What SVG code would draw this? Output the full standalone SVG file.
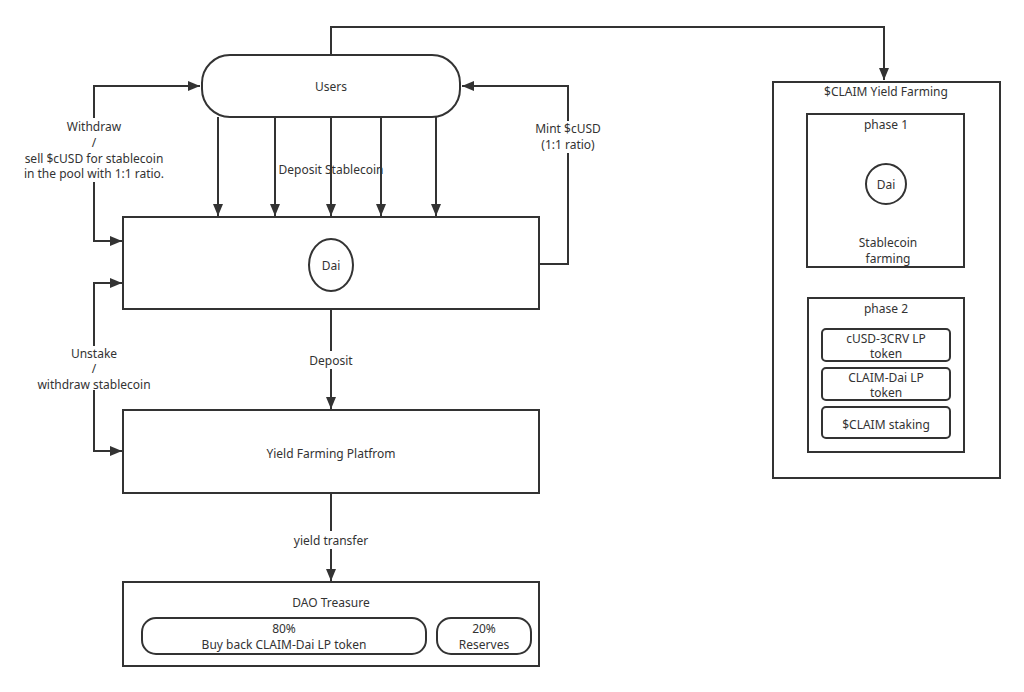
<svg xmlns="http://www.w3.org/2000/svg" width="1024" height="692" viewBox="0 0 1024 692">
<defs>
<style>
.s{fill:#fff;stroke:#333;stroke-width:2}
.l{fill:none;stroke:#333;stroke-width:2}
text{font-family:"Noto Sans","Liberation Sans",sans-serif;font-size:12px;fill:#333;text-anchor:middle}
.lb{fill:#fff}
</style>
<marker id="a" viewBox="0 0 10 10" refX="10" refY="5" markerWidth="5" markerHeight="5" orient="auto" markerUnits="userSpaceOnUse" style="overflow:visible"><path d="M0,0L10,5L0,10z" fill="#333" transform="scale(1.4) translate(-2.9,-1.4)"/></marker>
<marker id="b" viewBox="0 0 12 10" refX="12" refY="5" markerWidth="12" markerHeight="10" orient="auto" markerUnits="userSpaceOnUse"><path d="M0,0L12,5L0,10z" fill="#333"/></marker>
</defs>
<rect width="1024" height="692" fill="#fff"/>
<g id="connectors">
<path class="l" d="M331,55V27H884V80" marker-end="url(#b)"/>
<path class="l" d="M218,117V216" marker-end="url(#b)"/>
<path class="l" d="M275,117V216" marker-end="url(#b)"/>
<path class="l" d="M331,117V216" marker-end="url(#b)"/>
<path class="l" d="M381,117V216" marker-end="url(#b)"/>
<path class="l" d="M436,117V216" marker-end="url(#b)"/>
<path class="l" d="M200,86H94V241H122" marker-end="url(#b)"/>
<path class="l" d="M94,86H200" marker-end="url(#b)"/>
<path class="l" d="M539,264H568V86H462" marker-end="url(#b)"/>
<path class="l" d="M122,283H94V451H122" marker-end="url(#b)"/>
<path class="l" d="M94,283H122" marker-end="url(#b)"/>
<path class="l" d="M331,309V409" marker-end="url(#b)"/>
<path class="l" d="M331,493V581" marker-end="url(#b)"/>
<rect x="40" y="118" width="110" height="64" fill="#fff"/>
<text x="94" y="131">Withdraw</text>
<text x="94" y="147">/</text>
<text x="94" y="163">sell $cUSD for stablecoin</text>
<text x="94" y="178">in the pool with 1:1 ratio.</text>
<rect x="526" y="121" width="84" height="32" fill="#fff"/>
<text x="568" y="133">Mint $cUSD</text>
<text x="568" y="149">(1:1 ratio)</text>
<text x="331" y="174">Deposit Stablecoin</text>
<rect x="30" y="346" width="130" height="44" fill="#fff"/>
<text x="94" y="358">Unstake</text>
<text x="94" y="373">/</text>
<text x="94" y="389">withdraw stablecoin</text>
<rect x="300" y="351" width="62" height="18" fill="#fff"/>
<text x="331" y="365">Deposit</text>
<rect x="280" y="531" width="102" height="18" fill="#fff"/>
<text x="331" y="545">yield transfer</text>
</g>
<g id="users"><rect class="s" x="202" y="55" width="258" height="62" rx="28"/><text x="331" y="91">Users</text></g>
<g id="pool"><rect class="s" x="123" y="217" width="416" height="92"/><ellipse class="s" cx="331" cy="265" rx="22" ry="26"/><text x="331" y="270">Dai</text></g>
<g id="platform"><rect class="s" x="123" y="410" width="416" height="83"/><text x="331" y="458">Yield Farming Platfrom</text></g>
<g id="dao"><rect class="s" x="123" y="582" width="416" height="84"/><text x="331" y="607">DAO Treasure</text>
<rect class="s" x="142" y="618" width="284" height="36" rx="14"/><text x="284" y="633">80%</text><text x="284" y="649">Buy back CLAIM-Dai LP token</text>
<rect class="s" x="437" y="618" width="94" height="36" rx="14"/><text x="484" y="633">20%</text><text x="484" y="649">Reserves</text></g>
<g id="claim"><rect class="s" x="773" y="82" width="227" height="396"/><text x="886" y="96">$CLAIM Yield Farming</text>
<g id="phase1"><rect class="s" x="807" y="114" width="157" height="153"/><text x="886" y="129">phase 1</text><circle class="s" cx="886" cy="184" r="20"/><text x="886" y="189">Dai</text><text x="888" y="247">Stablecoin</text><text x="888" y="263">farming</text></g>
<g id="phase2"><rect class="s" x="808" y="298" width="156" height="154"/><text x="886" y="313">phase 2</text>
<rect class="s" x="822" y="329" width="128" height="32" rx="4"/><text x="886" y="343">cUSD-3CRV LP</text><text x="886" y="358">token</text>
<rect class="s" x="822" y="368" width="128" height="32" rx="4"/><text x="886" y="382">CLAIM-Dai LP</text><text x="886" y="397">token</text>
<rect class="s" x="822" y="407" width="128" height="31" rx="4"/><text x="886" y="429">$CLAIM staking</text></g></g>
</svg>
